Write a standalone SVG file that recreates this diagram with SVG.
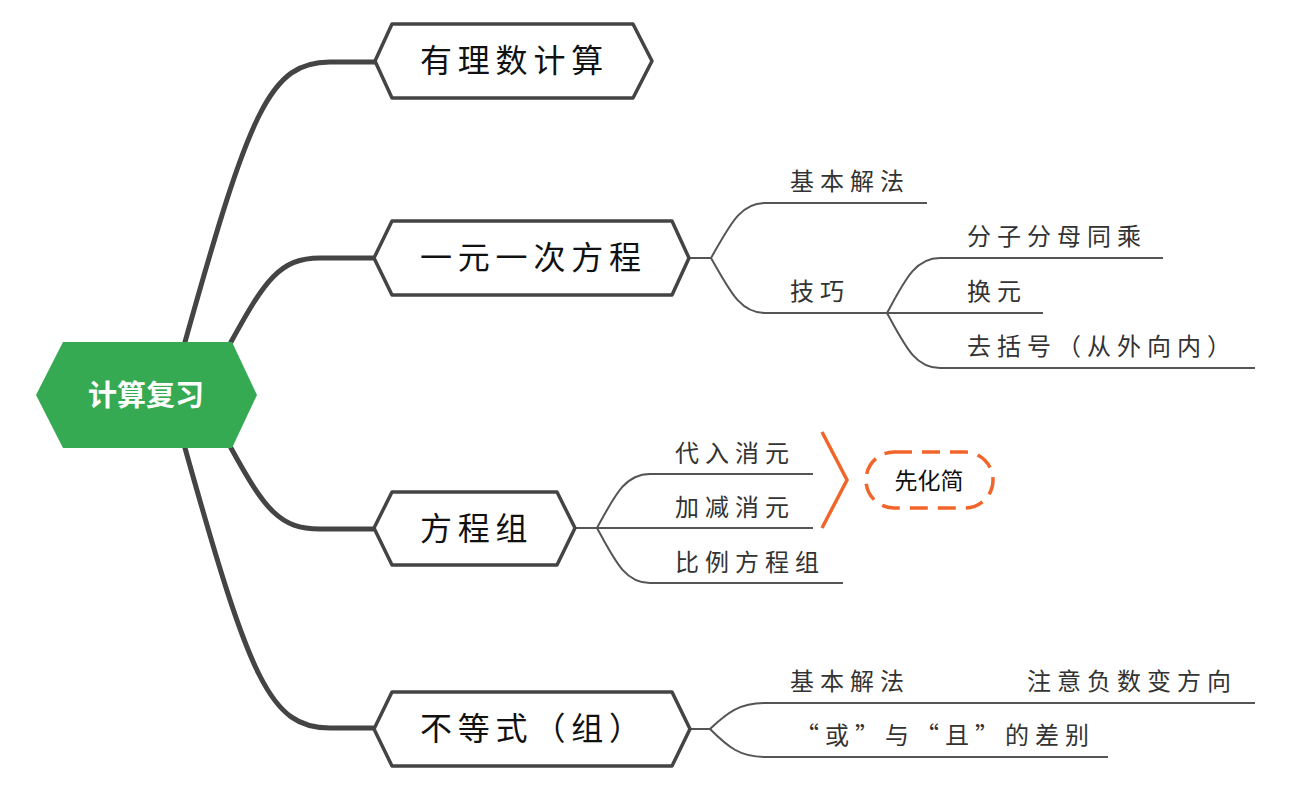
<svg xmlns="http://www.w3.org/2000/svg" width="1290" height="790" viewBox="0 0 1290 790">
<style>
.main{fill:none;stroke:#444;stroke-width:5;stroke-linecap:round}
.sub{fill:none;stroke:#555;stroke-width:2}
.box{fill:#fff;stroke:#444;stroke-width:3.5;stroke-linejoin:round}
.t1{font-family:"Noto Sans CJK SC","Noto Sans CJK JP",sans-serif;font-size:32px;fill:#111;letter-spacing:5.8px}
.t2{font-family:"Noto Sans CJK SC","Noto Sans CJK JP",sans-serif;font-size:24px;fill:#333;letter-spacing:6px}
.org{fill:none;stroke:#f2652a;stroke-width:3.5}
</style>
<rect width="1290" height="790" fill="#fff"/>
<g id="connectors">
<path class="main" d="M185,342 C250,110 270,62 330,62 L376,62"/>
<path class="main" d="M231,342 C265,280 280,258 320,258 L376,258"/>
<path class="main" d="M231,448 C265,510 280,529 320,529 L376,529"/>
<path class="main" d="M185,448 C250,680 270,728 330,728 L376,728"/>
<path class="sub" d="M688,258 L711,258 C730,225 740,203 765,203 L927,203"/>
<path class="sub" d="M711,258 C730,291 740,313 765,313 L887,313"/>
<path class="sub" d="M887,313 C905,280 915,258 940,258 L1163,258"/>
<path class="sub" d="M887,313 L1043,313"/>
<path class="sub" d="M887,313 C905,346 915,368 940,368 L1255,368"/>
<path class="sub" d="M575,528 L597,528 C615,495 625,474 650,474 L813,474"/>
<path class="sub" d="M597,528 L813,528"/>
<path class="sub" d="M597,528 C615,561 625,583 650,583 L843,583"/>
<path class="sub" d="M690,729 L710,729 C728,712 740,703 765,703 L1255,703"/>
<path class="sub" d="M710,729 C728,747 740,757 765,757 L1108,757"/>
</g>
<g id="root">
<polygon points="36,395 63,342 232,342 257,395 232,448 63,448" fill="#35aa53"/>
<text x="146" y="406" text-anchor="middle" font-family="Noto Sans CJK SC, sans-serif" font-size="29" font-weight="bold" fill="#fff">计算复习</text>
</g>
<g id="n1">
<polygon class="box" points="375,61 392,24 633,24 652,61 633,98 392,98"/>
<text class="t1" x="420" y="72">有理数计算</text>
</g>
<g id="n2">
<polygon class="box" points="374,258 392,221 672,221 689,258 672,295 392,295"/>
<text class="t1" x="420" y="269">一元一次方程</text>
</g>
<g id="n3">
<polygon class="box" points="374,528 392,492 557,492 575,528 557,565 392,565"/>
<text class="t1" x="420" y="540">方程组</text>
</g>
<g id="n4">
<polygon class="box" points="374,729 392,692 672,692 690,729 672,766 392,766"/>
<text class="t1" x="420" y="740">不等式（组）</text>
</g>
<g id="n2a"><text class="t2" x="790" y="190">基本解法</text></g>
<g id="n2b"><text class="t2" x="790" y="300">技巧</text></g>
<g id="n2b1"><text class="t2" x="967" y="245">分子分母同乘</text></g>
<g id="n2b2"><text class="t2" x="967" y="300">换元</text></g>
<g id="n2b3"><text class="t2" x="967" y="355">去括号（从外向内）</text></g>
<g id="n3a"><text class="t2" x="675" y="462">代入消元</text></g>
<g id="n3b"><text class="t2" x="675" y="516">加减消元</text></g>
<g id="n3c"><text class="t2" x="675" y="571">比例方程组</text></g>
<g id="n4a"><text class="t2" x="790" y="690">基本解法</text></g>
<g id="n4a1"><text class="t2" x="1027" y="690">注意负数变方向</text></g>
<g id="n4b"><text class="t2" x="795" y="744">“或”与“且”的差别</text></g>
<g id="summary">
<polyline class="org" points="822,432 847,480 822,528"/>
<rect x="866" y="452" width="127" height="56" rx="28" class="org" stroke-width="4" stroke-dasharray="18 10"/>
<text x="929" y="489" text-anchor="middle" font-family="Noto Sans CJK SC, sans-serif" font-size="23" fill="#111">先化简</text>
</g>
</svg>
